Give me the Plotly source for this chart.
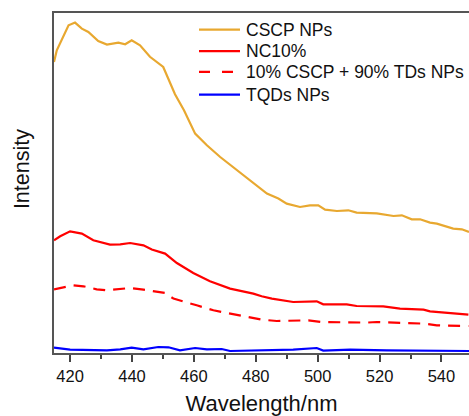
import plotly.graph_objects as go

# Photoluminescence spectra (arbitrary intensity units)
wl_cscp = [414.8, 415.7, 419.5, 421.6, 423.8, 425.9, 429.1, 431.9, 435.6, 437.8, 439.9,
           442.6, 445.8, 450.1, 453.9, 456.8, 460.4, 464.2, 468.5, 470.6, 473.9, 478.2,
           483.6, 487.3, 490.0, 494.3, 497.5, 500.2, 502.4, 506.2, 509.9, 512.6, 519.1,
           524.5, 527.2, 530.4, 533.1, 536.3, 538.5, 543.8, 546.6, 548.9]
int_cscp = [291.0, 302.7, 327.7, 330.4, 324.4, 321.0, 312.0, 308.4, 310.4, 308.7, 312.7,
            307.7, 296.2, 286.0, 258.7, 242.7, 219.4, 207.7, 196.0, 191.0, 182.7, 172.7,
            159.4, 154.4, 149.4, 146.0, 147.7, 147.7, 143.4, 142.0, 142.7, 140.4, 139.7,
            137.0, 137.7, 133.7, 133.7, 130.4, 129.4, 124.4, 123.7, 121.0]

wl_nc10 = [414.8, 416.8, 420.0, 423.8, 427.5, 432.9, 436.2, 439.4, 443.7, 446.4, 450.7,
           454.5, 459.8, 465.2, 471.7, 479.2, 481.9, 485.2, 492.1, 499.7, 501.8, 509.4,
           512.6, 521.2, 526.6, 534.2, 536.3, 544.9, 548.7]
int_nc10 = [112.7, 116.7, 121.7, 119.4, 112.7, 108.4, 108.7, 110.0, 107.7, 103.4, 99.4,
            90.0, 80.0, 71.7, 64.4, 59.4, 56.7, 54.4, 51.0, 51.7, 48.7, 48.7,
            47.0, 46.7, 44.4, 43.4, 41.7, 39.4, 38.4]

wl_mix = [414.8, 421.1, 424.3, 428.6, 431.9, 436.2, 439.4, 443.7, 446.9, 450.7, 453.4,
          457.2, 460.9, 466.3, 471.7, 478.2, 481.9, 486.8, 493.8, 497.0, 501.3, 508.3,
          515.9, 519.1, 523.4, 534.2, 538.5, 548.7]
int_mix = [63.7, 67.7, 66.7, 63.7, 62.7, 64.4, 65.0, 63.4, 61.7, 60.0, 54.4,
           50.7, 47.7, 42.7, 39.4, 35.4, 33.4, 32.0, 32.0, 32.7, 31.0, 30.4,
           30.4, 31.0, 30.4, 29.4, 27.7, 27.0]

wl_tqd = [414.8, 420.0, 431.9, 436.2, 439.9, 443.7, 448.5, 451.8, 455.5, 460.4, 464.2,
          469.0, 471.7, 492.1, 499.7, 501.8, 510.5, 522.3, 548.9]
int_tqd = [5.4, 3.4, 2.7, 3.7, 5.4, 3.7, 6.0, 5.7, 2.7, 5.0, 3.7,
           4.0, 2.0, 3.4, 5.0, 2.4, 3.4, 2.7, 2.0]

DASH = "12px,8px"
LEGEND_DASH = "11px,12px"
series = [
    ("CSCP NPs", wl_cscp, int_cscp, "#E8A830", "solid"),
    ("NC10%", wl_nc10, int_nc10, "#FF0000", "solid"),
    ("10% CSCP + 90% TDs NPs", wl_mix, int_mix, "#FF0000", DASH),
    ("TQDs NPs", wl_tqd, int_tqd, "#0000FF", "solid"),
]

font_family = "Liberation Sans, Arial, sans-serif"

fig = go.Figure()
for name, x, y, color, dash in series:
    fig.add_trace(go.Scatter(x=x, y=y, mode="lines", name=name, showlegend=False,
                             line=dict(color=color, width=2.2, dash=dash)))

# Legend block in the upper right: line sample + label per series
leg_x0, leg_x1, leg_text_x = 0.3494, 0.4482, 0.4578
leg_rows = [0.951, 0.888, 0.827, 0.760]
shapes = []
annotations = []
for (name, _, _, color, dash), ry in zip(series, leg_rows):
    shapes.append(dict(type="line", xref="paper", yref="paper",
                       x0=leg_x0, x1=leg_x1, y0=ry, y1=ry,
                       line=dict(color=color, width=2.2,
                                 dash=LEGEND_DASH if dash != "solid" else "solid")))
    annotations.append(dict(text=name, xref="paper", yref="paper",
                            x=leg_text_x, y=ry, xanchor="left", yanchor="middle",
                            showarrow=False,
                            font=dict(size=17.5, family=font_family, color="#111111")))

annotations.append(dict(text="Intensity", textangle=-90, xref="paper", yref="paper",
                        x=-0.077, y=0.541, xanchor="center", yanchor="middle",
                        showarrow=False,
                        font=dict(size=21.5, family=font_family, color="#111111")))

fig.update_layout(
    width=469, height=416,
    margin=dict(l=54, r=0, t=13, b=63),
    paper_bgcolor="white", plot_bgcolor="white",
    font=dict(family=font_family, color="#111111"),
    showlegend=False,
    xaxis=dict(range=[414.8, 548.9], tick0=420, dtick=20, ticks="outside",
               ticklen=7, tickwidth=1.5, tickcolor="#444444",
               showline=True, linecolor="#555555", linewidth=2, mirror=True,
               showgrid=False, zeroline=False,
               tickfont=dict(size=16.5),
               minor=dict(dtick=10, tick0=420, ticks="outside", ticklen=4,
                          tickwidth=1.5, tickcolor="#444444", showgrid=False),
               title=dict(text="Wavelength/nm", font=dict(size=22), standoff=15)),
    yaxis=dict(range=[0, 340], showticklabels=False, ticks="",
               showline=True, linecolor="#555555", linewidth=2,
               showgrid=False, zeroline=False),
    shapes=shapes,
    annotations=annotations,
)

fig.write_html("out.html")
